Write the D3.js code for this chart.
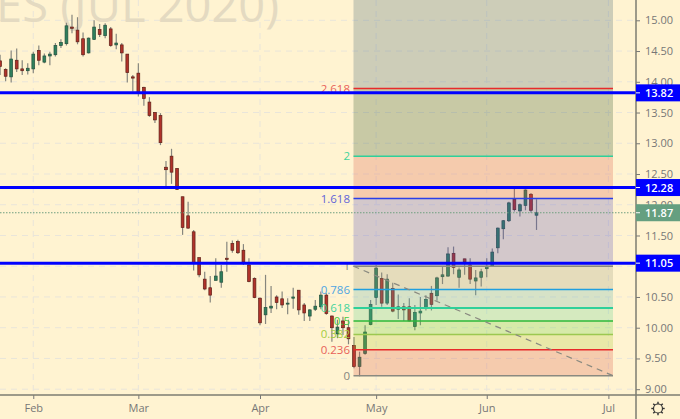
<!DOCTYPE html>
<html><head><meta charset="utf-8">
<script src="https://cdn.jsdelivr.net/npm/d3@7"></script>
<style>html,body{margin:0;padding:0;background:#fff3d1;overflow:hidden}svg{display:block}</style>
</head><body><svg id="c" width="680" height="419"></svg>
<script>
const highs=[14.44,14.22,14.51,14.54,14.35,14.30,14.49,14.59,14.46,14.49,14.63,14.69,14.96,15.09,15.05,14.80,14.72,15.00,14.94,14.95,14.89,14.78,14.63,14.45,14.11,14.30,13.92,13.75,13.51,13.49,12.71,12.91,12.59,12.13,12.05,11.59,11.14,10.91,10.84,11.13,11.02,11.40,11.42,11.43,11.36,11.13,10.82,10.49,10.86,10.68,10.53,10.59,10.48,10.65,10.61,10.40,10.30,10.45,10.59,10.56,10.20,10.13,10.18,10.13,9.85,9.61,10.04,10.45,11.02,10.90,10.87,10.73,10.54,10.40,10.48,10.37,10.50,10.53,10.68,10.83,10.99,11.31,11.32,10.98,11.12,11.13,10.94,10.96,11.13,11.29,11.63,11.75,12.05,12.26,12.02,12.25,12.19,12.09];
const lows=[14.11,14.01,13.99,14.16,14.11,14.12,14.14,14.27,14.30,14.27,14.41,14.55,14.59,14.79,14.61,14.41,14.46,14.68,14.73,14.71,14.57,14.53,14.33,13.99,13.84,13.76,13.61,13.43,13.33,12.97,12.29,12.34,12.24,11.51,11.61,10.93,10.82,10.61,10.41,10.77,10.65,10.91,11.22,11.20,11.02,10.74,10.48,10.04,10.06,10.24,10.30,10.32,10.22,10.31,10.21,10.11,10.11,10.27,10.30,10.21,9.77,9.83,9.88,9.73,9.34,9.21,9.56,10.04,10.37,10.34,10.37,10.25,10.14,10.11,10.10,9.96,10.04,10.28,10.28,10.44,10.71,10.83,10.87,10.65,10.86,10.71,10.53,10.67,10.82,10.99,11.21,11.44,11.72,11.89,11.81,11.91,11.87,11.59];
const opens=[14.34,14.20,14.08,14.35,14.21,14.18,14.21,14.51,14.32,14.42,14.44,14.59,14.62,14.89,14.84,14.70,14.47,14.69,14.85,14.75,14.86,14.60,14.60,14.45,14.08,14.14,13.91,13.67,13.50,13.45,12.61,12.79,12.59,12.13,11.82,11.56,11.14,10.79,10.65,10.77,10.74,11.13,11.37,11.40,11.26,11.02,10.80,10.48,10.21,10.32,10.50,10.47,10.39,10.48,10.61,10.37,10.19,10.30,10.34,10.53,10.19,9.90,10.11,10.00,9.71,9.37,9.58,10.05,10.49,10.80,10.40,10.64,10.30,10.34,10.34,10.02,10.24,10.31,10.56,10.52,10.83,10.84,11.21,10.82,11.12,11.02,10.76,10.82,10.96,11.00,11.30,11.61,11.74,12.09,11.90,11.99,12.17,11.83];
const closes=[14.25,14.09,14.37,14.21,14.18,14.22,14.45,14.35,14.42,14.45,14.59,14.64,14.91,14.87,14.65,14.44,14.71,14.89,14.77,14.92,14.59,14.63,14.47,14.15,14.06,13.83,13.73,13.45,13.38,13.01,12.57,12.53,12.25,11.63,11.62,11.06,10.86,10.63,10.53,10.84,10.91,11.11,11.26,11.22,11.07,10.75,10.49,10.08,10.33,10.35,10.41,10.37,10.40,10.50,10.29,10.24,10.29,10.35,10.53,10.23,10.00,10.01,10.00,9.82,9.37,9.52,9.93,10.38,10.97,10.40,10.79,10.27,10.34,10.29,10.11,10.25,10.27,10.46,10.38,10.81,10.86,11.20,10.98,10.94,11.07,10.79,10.81,10.91,11.00,11.23,11.62,11.74,12.03,11.92,12.00,12.24,11.91,11.87];
const priceTicks=[15,14.5,14,13.5,13,12.5,12,11.5,11,10.5,10,9.5,9];
const monthLabels=["Feb","Mar","Apr","May","Jun","Jul"];
const monthBars=[6,25,47,68,88,110];
const hLevels=[13.82,12.28,11.05];
const lastPrice=11.87;
const fibLabels=["0","0.236","0.382","0.5","0.618","0.786","1","1.618","2","2.618"];
const fibPrices=[9.22,9.64,9.89,10.11,10.32,10.62,11.0,12.10,12.79,13.89];
const fibLine=["#8a8a80","#e82a2a","#9cc850","#2eb83a","#2fd09a","#1f9fe0","#8a8a80","#2a3fe8","#2fd09a","#e82a2a"];
const fibWidth=[1.5,1.5,1.6,1.4,2,1.5,1.6,1.5,1.4,1.5];
const fibText=["#85857e","#e8625a","#a4cc40","#45cc45","#45d39c","#4fa5e2","#85857e","#5f64d8","#45d39c","#e8625a"];
const fibFill=["#d75345","#a7c731","#5bcf35","#57cf8d","#5bafad","#97977d","#4f47bd","#d75345","#234b25","#375b71"];
const watermark="ES (JUL 2020)";

const svg=d3.select("#c");
const W=636,H=395;
const x=d3.scaleLinear().domain([0,110]).range([0.1,608.4]);
const y=d3.scaleLinear().domain([15,9]).range([20.3,389.2]);
const FONT="'Open Sans','Liberation Sans',sans-serif";

const defs=svg.append("defs");
defs.append("clipPath").attr("id","plot").append("rect").attr("width",W).attr("height",H);
const plot=svg.append("g").attr("clip-path","url(#plot)");

plot.selectAll("line.h").data(priceTicks).join("line").attr("x1",0).attr("x2",W)
 .attr("y1",d=>y(d)).attr("y2",d=>y(d)).attr("stroke","#e9e5da").attr("stroke-dasharray","6 5");
plot.selectAll("line.v").data(monthBars).join("line").attr("x1",d=>x(d)).attr("x2",d=>x(d))
 .attr("y1",0).attr("y2",H).attr("stroke","#e9e5da").attr("stroke-dasharray","6 5");
plot.append("text").text(watermark).attr("x",279).attr("y",22).attr("text-anchor","end")
 .attr("font-family",FONT).attr("font-size",47).attr("fill","#e4dac1");

const idx=d3.range(highs.length);
const up=i=>closes[i]>=opens[i];
plot.selectAll("line.w").data(idx).join("line").attr("x1",i=>x(i)).attr("x2",i=>x(i))
 .attr("y1",i=>y(highs[i])).attr("y2",i=>y(lows[i])).attr("stroke","#86867e").attr("stroke-width",1.2);
plot.selectAll("rect.b").data(idx).join("rect")
 .attr("x",i=>x(i)-1.4).attr("width",2.8)
 .attr("y",i=>y(Math.max(opens[i],closes[i])))
 .attr("height",i=>Math.max(1,Math.abs(y(opens[i])-y(closes[i]))))
 .attr("fill",i=>up(i)?"#2f7f5c":"#b0322a")
 .attr("stroke",i=>up(i)?"#24503e":"#5e2018").attr("stroke-width",0.7);

const boxL=353.5,boxR=613;
const tops=fibPrices.slice(1).concat([16]);
plot.selectAll("rect.z").data(fibPrices).join("rect").attr("x",boxL).attr("width",boxR-boxL)
 .attr("y",(d,i)=>y(tops[i])).attr("height",(d,i)=>y(d)-y(tops[i]))
 .attr("fill",(d,i)=>fibFill[i]).attr("fill-opacity",0.25);
plot.selectAll("line.f").data(fibPrices).join("line").attr("x1",boxL).attr("x2",boxR)
 .attr("y1",d=>y(d)).attr("y2",d=>y(d))
 .attr("stroke",(d,i)=>fibLine[i]).attr("stroke-width",(d,i)=>fibWidth[i]);
plot.selectAll("text.f").data(fibPrices).join("text").attr("x",350).attr("y",d=>y(d)+4)
 .attr("text-anchor","end").attr("font-family",FONT).attr("font-size",11.5)
 .attr("fill",(d,i)=>fibText[i]).text((d,i)=>fibLabels[i]);
plot.append("line").attr("x1",boxL).attr("y1",y(fibPrices[6])).attr("x2",boxR).attr("y2",y(fibPrices[0]))
 .attr("stroke","#8a8a80").attr("stroke-width",1.2).attr("stroke-dasharray","6 5");

plot.append("line").attr("x1",0).attr("x2",W).attr("y1",y(lastPrice)).attr("y2",y(lastPrice))
 .attr("stroke","#6f9f80").attr("stroke-width",1.2).attr("stroke-dasharray","1.5 1.5");
plot.selectAll("line.b").data(hLevels).join("line").attr("x1",0).attr("x2",W)
 .attr("y1",d=>y(d)).attr("y2",d=>y(d)).attr("stroke","#0000ff").attr("stroke-width",3);

const axisR=d3.axisRight(y).tickValues(priceTicks).tickFormat(d3.format(".2f")).tickSize(4).tickPadding(5);
const gR=svg.append("g").attr("transform",`translate(${W},0)`).call(axisR);
const axisB=d3.axisBottom(x).tickValues(monthBars).tickFormat((d,i)=>monthLabels[i]).tickSize(4).tickPadding(5);
const gB=svg.append("g").attr("transform",`translate(0,${H})`).call(axisB);
[gR,gB].forEach(g=>{g.select(".domain").remove();
 g.selectAll("line").attr("stroke","#777");
 g.selectAll("text").attr("fill","#777").attr("font-family",FONT).attr("font-size",11);});
svg.append("line").attr("x1",0).attr("x2",680).attr("y1",H).attr("y2",H).attr("stroke","#7c7c70").attr("stroke-width",1.5);
svg.append("line").attr("x1",W).attr("x2",W).attr("y1",0).attr("y2",419).attr("stroke","#7c7c70").attr("stroke-width",1.5);

const tags=hLevels.map(v=>({v,c:"#0000ff"})).concat([{v:lastPrice,c:"#659f80"}]);
const gt=svg.selectAll("g.t").data(tags).join("g").attr("transform",d=>`translate(${W},${y(d.v)})`);
gt.append("rect").attr("x",0).attr("y",-8.5).attr("width",44).attr("height",17).attr("fill",d=>d.c);
gt.append("line").attr("x1",0).attr("x2",4).attr("stroke","#fff");
gt.append("text").attr("x",9).attr("y",4).attr("fill","#fff").attr("font-family",FONT)
 .attr("font-size",11).attr("font-weight",600).text(d=>d.v.toFixed(2));

const gear=svg.append("g").attr("transform","translate(658,408.5)").attr("fill","none").attr("stroke","#333");
gear.append("circle").attr("r",4.5).attr("stroke-width",1.2);
d3.range(8).forEach(k=>{const a=k*Math.PI/4;
 gear.append("line").attr("x1",4.5*Math.cos(a)).attr("y1",4.5*Math.sin(a)).attr("x2",6.7*Math.cos(a)).attr("y2",6.7*Math.sin(a)).attr("stroke-width",1.4);});
</script></body></html>
